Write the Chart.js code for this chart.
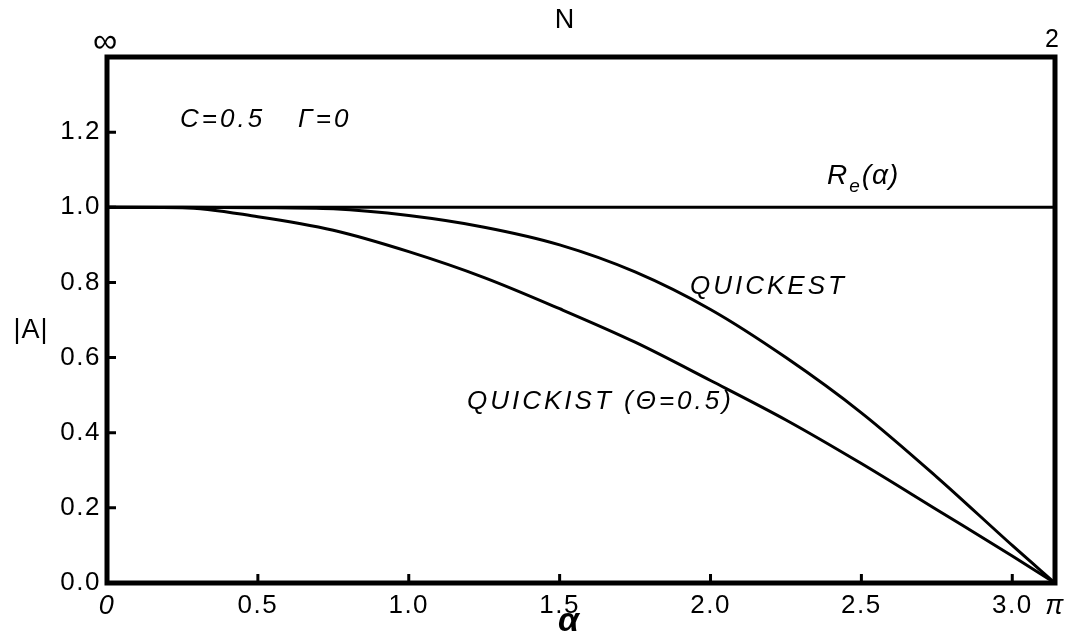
<!DOCTYPE html>
<html>
<head>
<meta charset="utf-8">
<script src="https://cdn.jsdelivr.net/npm/chart.js@4/dist/chart.umd.min.js"></script>
<style>
    html, body { margin: 0; padding: 0; background: #fff; }
    canvas { display: block; }
</style>
</head>
<body>
<canvas id="ampChart" width="1065" height="641"></canvas>
<script>
// wave number alpha and amplitude ratio |A| of each scheme
const alpha = [0, 0.25, 0.5, 0.75, 1.0, 1.25, 1.5, 1.75, 2.0, 2.25, 2.5, 2.75, 3.0, Math.PI];
const quickest = [1.0, 1.0, 0.999, 0.996, 0.978, 0.947, 0.900, 0.828, 0.728, 0.600, 0.453, 0.282, 0.100, 0.0];
const quickist = [1.0, 0.999, 0.975, 0.939, 0.882, 0.813, 0.730, 0.641, 0.539, 0.434, 0.318, 0.195, 0.072, 0.0];
const reAlpha = [0, Math.PI];
const reValues = [1.0, 1.0];

const xTickValues = [0, 0.5, 1.0, 1.5, 2.0, 2.5, 3.0, Math.PI];
const xTickLabels = ['0', '0.5', '1.0', '1.5', '2.0', '2.5', '3.0', 'π'];
const yTickValues = [0, 0.2, 0.4, 0.6, 0.8, 1.0, 1.2];
const yTickLabels = ['0.0', '0.2', '0.4', '0.6', '0.8', '1.0', '1.2'];
const nTickValues = [0, Math.PI];
const nTickLabels = ['∞', '2'];

// in-plot labels, anchored at (alpha, |A|) on the left edge / vertical middle
const notes = [
    { text: 'C=0.5', x: 0.242, y: 1.233 },
    { text: 'Γ=0', x: 0.633, y: 1.233 },
    { text: 'QUICKEST', x: 1.932, y: 0.788 },
    { text: 'QUICKIST (Θ=0.5)', x: 1.193, y: 0.482 }
];
const reLabelPos = { x: 2.386, y: 1.082 };

const FONT = '"Liberation Sans", Arial, Helvetica, sans-serif';
const INK = '#000';

const toPoints = (xs, ys) => xs.map((x, i) => ({ x: x, y: ys[i] }));

const framePlugin = {
    id: 'frame',
    beforeDraw(chart) {
        chart.ctx.letterSpacing = '1.5px';
    },
    afterDatasetsDraw(chart) {
        const ctx = chart.ctx;
        const area = chart.chartArea;
        const xs = chart.scales.x;
        const ys = chart.scales.y;
        ctx.save();
        ctx.strokeStyle = INK;

        // inward tick marks
        ctx.lineWidth = 3;
        ctx.beginPath();
        xTickValues.slice(1, -1).forEach(v => {
            const px = xs.getPixelForValue(v);
            ctx.moveTo(px, area.bottom);
            ctx.lineTo(px, area.bottom - 9);
        });
        yTickValues.slice(1).forEach(v => {
            const py = ys.getPixelForValue(v);
            ctx.moveTo(area.left, py);
            ctx.lineTo(area.left + 9, py);
        });
        ctx.stroke();

        // heavy box
        ctx.lineWidth = 5;
        ctx.lineJoin = 'miter';
        ctx.strokeRect(area.left, area.top, area.right - area.left, area.bottom - area.top);
        ctx.restore();
    },
    afterDraw(chart) {
        const ctx = chart.ctx;
        const xs = chart.scales.x;
        const ys = chart.scales.y;
        const ns = chart.scales.xN;
        ctx.save();
        ctx.fillStyle = INK;
        ctx.textBaseline = 'middle';
        ctx.textAlign = 'left';

        ctx.letterSpacing = '3px';
        ctx.font = 'italic 26px ' + FONT;
        notes.forEach(n => {
            ctx.fillText(n.text, xs.getPixelForValue(n.x), ys.getPixelForValue(n.y));
        });

        // R_e(alpha)
        ctx.letterSpacing = '1px';
        let px = xs.getPixelForValue(reLabelPos.x);
        const py = ys.getPixelForValue(reLabelPos.y);
        ctx.font = 'italic 28px ' + FONT;
        ctx.fillText('R', px, py);
        px += ctx.measureText('R').width + 1;
        ctx.font = 'italic 19px ' + FONT;
        ctx.fillText('e', px, py + 10);
        px += ctx.measureText('e').width + 1;
        ctx.font = 'italic 28px ' + FONT;
        ctx.fillText('(α)', px, py);

        // N values along the top edge
        ctx.letterSpacing = '0px';
        ctx.textAlign = 'center';
        ctx.font = '34px ' + FONT;
        ctx.fillText(nTickLabels[0], ns.getPixelForValue(nTickValues[0]) - 2, 43);
        ctx.font = '25px ' + FONT;
        ctx.fillText(nTickLabels[1], ns.getPixelForValue(nTickValues[1]) - 3, 40);

        // axis titles
        ctx.letterSpacing = '1px';
        ctx.font = '27px ' + FONT;
        ctx.fillText('|A|', 31, 331);
        ctx.fillText('N', 565, 21);
        ctx.font = 'bold italic 34px ' + FONT;
        ctx.fillText('α', 569, 622);
        ctx.restore();
    }
};

const lineStyle = {
    borderColor: INK,
    borderWidth: 3,
    pointRadius: 0,
    fill: false,
    cubicInterpolationMode: 'monotone'
};

new Chart(document.getElementById('ampChart'), {
    type: 'line',
    data: {
        datasets: [
            Object.assign({ label: 'Re(α)', data: toPoints(reAlpha, reValues) }, lineStyle, { cubicInterpolationMode: 'default', tension: 0 }),
            Object.assign({ label: 'QUICKEST', data: toPoints(alpha, quickest) }, lineStyle),
            Object.assign({ label: 'QUICKIST (Θ=0.5)', data: toPoints(alpha, quickist) }, lineStyle)
        ]
    },
    options: {
        responsive: false,
        animation: false,
        devicePixelRatio: 1,
        layout: { padding: { left: 0, right: 10, top: 0, bottom: 0 } },
        plugins: {
            legend: { display: false },
            tooltip: { enabled: false }
        },
        scales: {
            x: {
                type: 'linear',
                position: 'bottom',
                min: 0,
                max: Math.PI,
                grid: { display: false, drawTicks: false },
                border: { display: false },
                afterBuildTicks: s => { s.ticks = xTickValues.map(v => ({ value: v })); },
                afterFit: s => { s.height = 58; s.paddingLeft = 0; s.paddingRight = 0; },
                ticks: {
                    padding: 7,
                    color: INK,
                    maxRotation: 0,
                    autoSkip: false,
                    font: ctx => {
                        const edge = ctx.index === 0 || ctx.index === xTickLabels.length - 1;
                        return { family: FONT, size: edge ? 27 : 26, style: edge ? 'italic' : 'normal' };
                    },
                    callback: (v, i) => xTickLabels[i]
                }
            },
            xN: {
                type: 'linear',
                position: 'top',
                min: 0,
                max: Math.PI,
                display: true,
                grid: { display: false, drawTicks: false },
                border: { display: false },
                afterBuildTicks: s => { s.ticks = nTickValues.map(v => ({ value: v })); },
                afterFit: s => { s.height = 57; s.paddingLeft = 0; s.paddingRight = 0; },
                ticks: { display: false }
            },
            y: {
                type: 'linear',
                position: 'left',
                min: 0,
                max: 1.4,
                grid: { display: false, drawTicks: false },
                border: { display: false },
                afterBuildTicks: s => { s.ticks = yTickValues.map(v => ({ value: v })); },
                afterFit: s => { s.width = 107; s.paddingTop = 0; s.paddingBottom = 0; },
                ticks: {
                    padding: 6,
                    color: INK,
                    autoSkip: false,
                    font: { family: FONT, size: 26 },
                    callback: (v, i) => yTickLabels[i]
                }
            }
        }
    },
    plugins: [framePlugin]
});
</script>
</body>
</html>
